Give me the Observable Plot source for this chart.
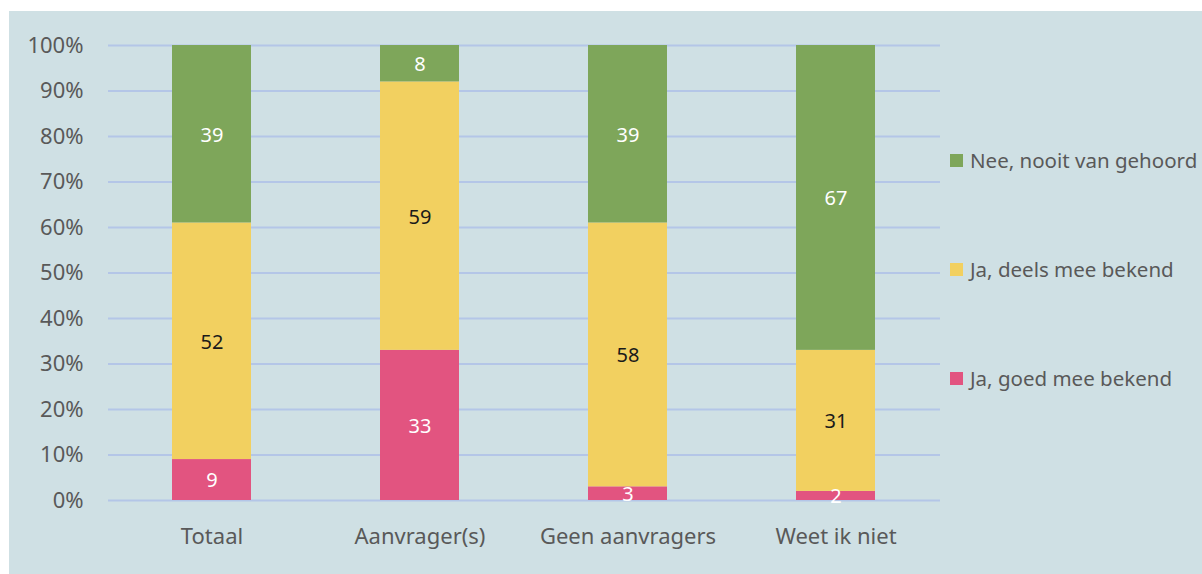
<!DOCTYPE html>
<html>
<head>
<meta charset="utf-8">
<script src="https://cdn.jsdelivr.net/npm/d3@7"></script>
<script src="https://cdn.jsdelivr.net/npm/@observablehq/plot@0.6"></script>
<style>
  html, body { margin: 0; padding: 0; background: #ffffff; }
  #wrap { position: relative; width: 1202px; height: 574px; overflow: hidden; font-family: "Noto Sans", "Open Sans", sans-serif; }
  #panel { position: absolute; left: 9px; top: 11px; width: 1193px; height: 563px; background: #cfe0e4; }
  #chart { position: absolute; left: 0; top: 0; }
  #legend { position: absolute; left: 950px; top: 0; color: #595959; font-size: 20.5px; }
  .item { position: absolute; white-space: nowrap; display: flex; align-items: center; }
  .sw { width: 13px; height: 13px; margin-right: 7px; }
</style>
</head>
<body>
<div id="wrap">
  <div id="panel"></div>
  <div id="chart"></div>
  <div id="legend"></div>
</div>
<script>
const categories = ["Totaal", "Aanvrager(s)", "Geen aanvragers", "Weet ik niet"];
const seriesNames = ["Ja, goed mee bekend", "Ja, deels mee bekend", "Nee, nooit van gehoord"];
const goed = [9, 33, 3, 2];
const deels = [52, 59, 58, 31];
const nee = [39, 8, 39, 67];
const colors = ["#e25480", "#f2d060", "#7ea65a"];
const yTicks = [0, 10, 20, 30, 40, 50, 60, 70, 80, 90, 100];

const valuesBySeries = [goed, deels, nee];
const data = [];
seriesNames.forEach((s, si) => {
  categories.forEach((c, ci) => {
    data.push({category: c, series: s, value: valuesBySeries[si][ci]});
  });
});

const chart = Plot.plot({
  width: 1202,
  height: 574,
  marginTop: 45,
  marginBottom: 74,
  marginLeft: 108,
  marginRight: 262,
  style: {background: "transparent", fontFamily: "'Noto Sans', 'Open Sans', sans-serif", fontSize: "20px", color: "#595959"},
  x: {domain: categories, paddingInner: 0.62, paddingOuter: 0.31, label: null},
  y: {domain: [0, 100], label: null},
  color: {domain: seriesNames, range: colors},
  marks: [
    Plot.ruleY(yTicks, {stroke: "#b4c6e7", strokeWidth: 2}),
    Plot.barY(data, Plot.stackY({x: "category", y: "value", z: "series", fill: "series", order: seriesNames})),
    Plot.text(data, Plot.stackY({x: "category", y: "value", z: "series", order: seriesNames, text: d => String(d.value),
      fill: d => d.series === "Ja, deels mee bekend" ? "#1a1a1a" : "#ffffff", fontSize: 20, dy: 1})),
    Plot.axisY(yTicks, {tickSize: 0, tickPadding: 25, tickFormat: d => d + "%", fontSize: 22, fill: "#595959", label: null}),
    Plot.axisX({tickSize: 0, tickPadding: 28, fontSize: 22, fill: "#595959", label: null})
  ]
});
document.getElementById("chart").appendChild(chart);

const legend = document.getElementById("legend");
const legendItems = [
  {name: seriesNames[2], color: colors[2], top: 146},
  {name: seriesNames[1], color: colors[1], top: 255},
  {name: seriesNames[0], color: colors[0], top: 364}
];
legendItems.forEach(it => {
  const div = document.createElement("div");
  div.className = "item";
  div.style.top = it.top + "px";
  const sw = document.createElement("span");
  sw.className = "sw";
  sw.style.background = it.color;
  const tx = document.createElement("span");
  tx.textContent = it.name;
  div.appendChild(sw);
  div.appendChild(tx);
  legend.appendChild(div);
});
</script>
</body>
</html>
